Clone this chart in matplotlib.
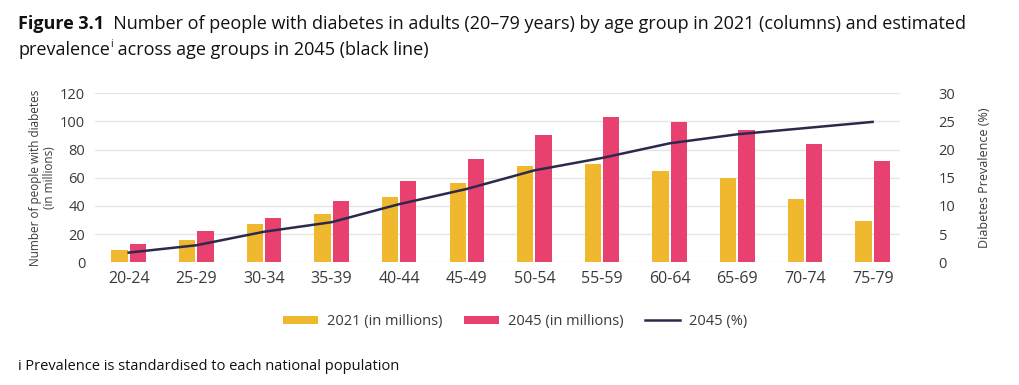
import numpy as np
import matplotlib.pyplot as plt

ages = ["20-24", "25-29", "30-34", "35-39", "40-44", "45-49",
        "50-54", "55-59", "60-64", "65-69", "70-74", "75-79"]
n2021 = [9, 15.5, 27, 34, 46.5, 56.5, 68, 69.5, 65, 60, 45, 29]
n2045 = [13, 22, 31.5, 43.5, 57.5, 73, 90, 103, 99.5, 94, 84, 71.5]
prev2045 = [1.7, 3.0, 5.4, 7.1, 10.3, 13.0, 16.3, 18.5, 21.1, 22.7, 23.8, 24.9]

YELLOW = "#EFB82E"
PINK = "#E8416F"
NAVY = "#2B2A4C"
GREY = "#3a3a3a"

plt.rcParams['font.family'] = ['Open Sans', 'DejaVu Sans']


def text_run(fig, x, y, pieces):
    # draw several text pieces next to each other on one line
    r = fig.canvas.get_renderer()
    for s, kw in pieces:
        dy = kw.pop('dy', 0)
        t = fig.text(x, y + dy, s, ha='left', va='baseline', **kw)
        bb = t.get_window_extent(renderer=r)
        x += bb.width / fig.bbox.width


fig = plt.figure(figsize=(10.2, 3.85), dpi=100)
ax = fig.add_axes([0.093, 0.319, 0.789, 0.439])

x = np.arange(len(ages))
w = 0.24
ax.bar(x - 0.135, n2021, w, color=YELLOW, label="2021 (in millions)", zorder=2)
ax.bar(x + 0.135, n2045, w, color=PINK, label="2045 (in millions)", zorder=2)

ax.set_ylim(0, 120)
ax.set_yticks(range(0, 121, 20))
ax.set_xlim(-0.5, 11.4)
ax.set_xticks(x)
ax.set_xticklabels(ages, fontsize=11.5, color=GREY)
ax.grid(axis='y', color="#e6e6e6", linewidth=1, zorder=0)
ax.tick_params(axis='y', length=0, pad=7, labelsize=10.5, labelcolor=GREY)
ax.tick_params(axis='x', length=0, pad=6)
for s in ax.spines.values():
    s.set_visible(False)
ax.set_ylabel("Number of people with diabetes\n(in millions)", fontsize=8.5, color=GREY,
              labelpad=3, linespacing=1.1)

ax2 = ax.twinx()
ax2.plot(x, prev2045, color=NAVY, linewidth=1.8, label="2045 (%)", zorder=3)
ax2.set_ylim(0, 30)
ax2.set_yticks(range(0, 31, 5))
ax2.tick_params(axis='y', length=0, pad=28, labelsize=10.5, labelcolor=GREY)
for lab in ax2.get_yticklabels():
    lab.set_horizontalalignment('left')
for s in ax2.spines.values():
    s.set_visible(False)
ax2.set_ylabel("Diabetes Prevalence (%)", fontsize=9, color=GREY, labelpad=16)

h1, l1 = ax.get_legend_handles_labels()
h2, l2 = ax2.get_legend_handles_labels()
fig.legend(h1 + h2, l1 + l2, loc='center', bbox_to_anchor=(0.505, 0.165), ncol=3,
           frameon=False, fontsize=10.5, handlelength=2.4, handleheight=0.5,
           columnspacing=1.5, handletextpad=0.6, labelcolor=GREY)

text_run(fig, 0.018, 0.925, [
    ("Figure 3.1", dict(fontsize=13, fontweight='bold', color='#111111')),
    ("  Number of people with diabetes in adults (20\u201379 years) by age group in 2021 (columns) and estimated",
     dict(fontsize=13, color='#111111')),
])
text_run(fig, 0.018, 0.858, [
    ("prevalence", dict(fontsize=13, color='#111111')),
    ("i", dict(fontsize=7.5, color='#111111', dy=0.02)),
    (" across age groups in 2045 (black line)", dict(fontsize=13, color='#111111')),
])
fig.text(0.018, 0.04, "i Prevalence is standardised to each national population",
         fontsize=10.5, color='#111111')

fig.savefig("out.png", dpi=100, facecolor='white')
